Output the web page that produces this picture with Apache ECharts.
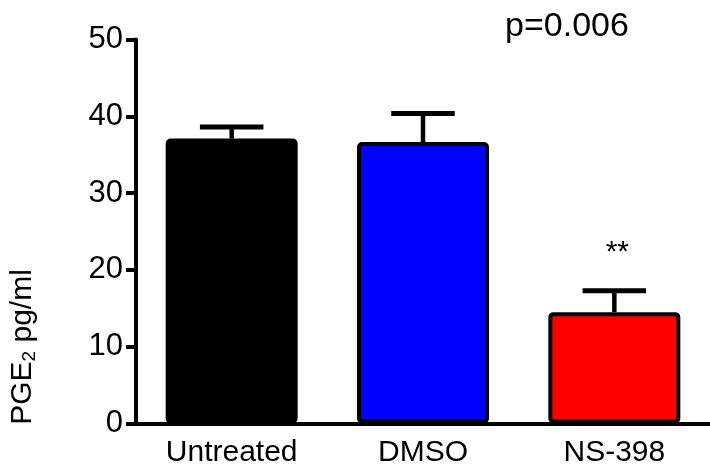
<!DOCTYPE html>
<html>
<head>
<meta charset="utf-8">
<script src="https://cdn.jsdelivr.net/npm/echarts@6/dist/echarts.min.js"></script>
<style>
  html, body { margin: 0; padding: 0; background: #fff; }
  #chart { width: 710px; height: 475px; }
</style>
</head>
<body>
<div id="chart"></div>
<script>
var groups = ['Untreated', 'DMSO', 'NS-398'];
var means = [37.1, 36.65, 14.5];
var sem = [1.5, 3.7, 2.8];
var barColors = ['#000000', '#0000ff', '#ff0000'];
var sigMarks = ['', '', '**'];
var yTicks = [0, 10, 20, 30, 40, 50];

var myChart = echarts.init(document.getElementById('chart'));

var font = 'Arial, "Liberation Sans", sans-serif';

function renderError(params, api) {
  var x = api.value(0);
  var mean = api.value(1);
  var err = api.value(2);
  var base = api.coord([x, mean]);
  var top = api.coord([x, mean + err]);
  var half = api.size([1, 0])[0] * 0.166;
  var children = [{
    type: 'line',
    shape: { x1: base[0], y1: base[1], x2: top[0], y2: top[1] },
    style: { stroke: '#000', lineWidth: 4.5 }
  }, {
    type: 'line',
    shape: { x1: top[0] - half, y1: top[1], x2: top[0] + half, y2: top[1] },
    style: { stroke: '#000', lineWidth: 5 }
  }];
  var mark = sigMarks[params.dataIndex];
  if (mark) {
    children.push({
      type: 'text',
      style: {
        text: mark, x: top[0] + 3, y: top[1] - 38,
        font: '30px ' + font, fill: '#000',
        align: 'center', verticalAlign: 'middle'
      }
    });
  }
  return { type: 'group', children: children };
}

var option = {
  animation: false,
  grid: { left: 136, right: -6, top: 39.5, bottom: 51.5 },
  xAxis: {
    type: 'category',
    data: groups,
    axisLine: { lineStyle: { color: '#000', width: 4 } },
    axisTick: { alignWithLabel: true, length: 10, lineStyle: { color: '#000', width: 4 } },
    axisLabel: { color: '#000', fontSize: 30, fontFamily: font, margin: 14 },
    splitLine: { show: false }
  },
  yAxis: {
    type: 'value',
    min: yTicks[0],
    max: yTicks[yTicks.length - 1],
    interval: 10,
    axisLine: { show: true, lineStyle: { color: '#000', width: 4 } },
    axisTick: { show: true, length: 10, lineStyle: { color: '#000', width: 4 } },
    axisLabel: { color: '#000', fontSize: 31, fontFamily: font, margin: 13 },
    splitLine: { show: false }
  },
  graphic: [{
    type: 'text',
    rotation: Math.PI / 2,
    x: 23, y: 347,
    style: {
      text: '{m|PGE}{s|2}{m| pg/ml}',
      align: 'center', verticalAlign: 'middle',
      rich: {
        m: { fontSize: 30, fontFamily: font, fill: '#000', color: '#000' },
        s: { fontSize: 19, fontFamily: font, fill: '#000', color: '#000', padding: [14, 0, 0, 0] }
      }
    }
  }, {
    type: 'text',
    x: 567, y: 27,
    style: {
      text: 'p=0.006', font: '34px ' + font, fill: '#000',
      align: 'center', verticalAlign: 'middle'
    }
  }],
  series: [{
    type: 'bar',
    barWidth: 132,
    data: means.map(function (v, i) {
      return {
        value: v,
        itemStyle: { color: barColors[i], borderColor: '#000', borderWidth: 4, borderRadius: 3 }
      };
    }),
    z: 2
  }, {
    type: 'custom',
    renderItem: renderError,
    data: means.map(function (v, i) { return [i, v, sem[i]]; }),
    z: 3
  }]
};

myChart.setOption(option);
</script>
</body>
</html>
